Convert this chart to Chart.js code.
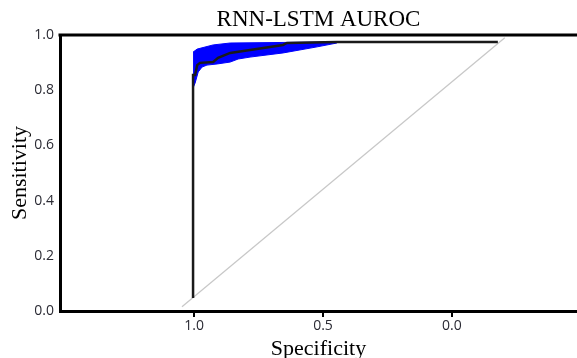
<!DOCTYPE html>
<html>
<head>
<meta charset="utf-8">
<script src="https://cdn.jsdelivr.net/npm/chart.js@4/dist/chart.umd.min.js"></script>
<style>
  html, body { margin: 0; padding: 0; background: #fff; }
  #wrap { width: 577px; height: 358px; }
</style>
</head>
<body>
<div id="wrap"><canvas id="c" width="577" height="358"></canvas></div>
<script>
// ROC curve (specificity, sensitivity)
const rocSpec = [1.004, 1.004, 0.996, 0.988, 0.977, 0.926, 0.907, 0.860, 0.783, 0.655, 0.640, 0.446, -0.178];
const rocSens = [0.047, 0.855, 0.855, 0.891, 0.899, 0.902, 0.917, 0.935, 0.946, 0.964, 0.971, 0.975, 0.975];

// Confidence band upper edge
const upperSpec = [1.004, 0.988, 0.926, 0.860, 0.446];
const upperSens = [0.938, 0.949, 0.964, 0.971, 0.975];

// Confidence band lower edge
const lowerSpec = [1.004, 0.996, 0.984, 0.969, 0.950, 0.911, 0.860, 0.829, 0.783, 0.655, 0.523, 0.446];
const lowerSens = [0.808, 0.826, 0.866, 0.884, 0.891, 0.895, 0.902, 0.913, 0.920, 0.935, 0.957, 0.971];

// Chance diagonal
const diagSpec = [1.047, -0.205];
const diagSens = [0.015, 0.990];

// Axis ticks
const xTickValues = [1.0, 0.5, 0.0];
const yTickValues = [0.0, 0.2, 0.4, 0.6, 0.8, 1.0];

const toPts = (xs, ys) => xs.map((x, i) => ({x: x, y: ys[i]}));

const topBorder = {
  id: 'topBorder',
  afterDatasetsDraw(chart) {
    const {ctx, chartArea} = chart;
    ctx.save();
    ctx.strokeStyle = '#000';
    ctx.lineWidth = 3;
    ctx.beginPath();
    ctx.moveTo(chartArea.left - 1.5, chartArea.top);
    ctx.lineTo(chartArea.right, chartArea.top);
    ctx.stroke();
    ctx.restore();
  }
};

new Chart(document.getElementById('c'), {
  type: 'scatter',
  data: {
    datasets: [
      {
        label: 'upper',
        data: toPts(upperSpec, upperSens),
        showLine: true,
        pointRadius: 0,
        borderWidth: 1,
        borderColor: '#0000ff',
        backgroundColor: '#0000ff',
        fill: '+1',
        tension: 0,
        order: 3
      },
      {
        label: 'lower',
        data: toPts(lowerSpec, lowerSens),
        showLine: true,
        pointRadius: 0,
        borderWidth: 1,
        borderColor: '#0000ff',
        backgroundColor: '#0000ff',
        fill: false,
        tension: 0,
        order: 3
      },
      {
        label: 'diag',
        data: toPts(diagSpec, diagSens),
        showLine: true,
        pointRadius: 0,
        borderWidth: 1.3,
        borderColor: '#c8c8c8',
        fill: false,
        order: 2
      },
      {
        label: 'roc',
        data: toPts(rocSpec, rocSens),
        showLine: true,
        pointRadius: 0,
        borderWidth: 2.5,
        borderColor: '#1a1a1a',
        fill: false,
        tension: 0,
        order: 1
      }
    ]
  },
  options: {
    responsive: false,
    animation: false,
    layout: { padding: 0 },
    plugins: {
      legend: { display: false },
      tooltip: { enabled: false },
      title: {
        display: true,
        text: 'RNN-LSTM AUROC',
        fullSize: false,
        color: '#000',
        font: { family: '"Liberation Serif", "Times New Roman", serif', size: 23, weight: 'normal', lineHeight: 1.2 },
        padding: { top: 6, bottom: 1.4 }
      }
    },
    scales: {
      x: {
        type: 'linear',
        reverse: true,
        min: -0.485,
        max: 1.52,
        afterBuildTicks: (scale) => { scale.ticks = xTickValues.map(v => ({value: v})); },
        afterFit: (scale) => { scale.height = 47; },
        ticks: {
          callback: (v) => Number(v).toFixed(1),
          color: '#2a2a33',
          font: { family: '"Open Sans", sans-serif', size: 14 },
          padding: 1,
          maxRotation: 0,
          autoSkip: false
        },
        grid: { drawOnChartArea: false, drawTicks: true, tickLength: 6, color: '#000', lineWidth: 2 },
        border: { display: true, color: '#000', width: 3 },
        title: {
          display: true,
          text: 'Specificity',
          color: '#000',
          font: { family: '"Liberation Serif", "Times New Roman", serif', size: 22, lineHeight: 0.8 },
          padding: { top: 0, bottom: 0 }
        }
      },
      y: {
        type: 'linear',
        min: 0,
        max: 1,
        afterBuildTicks: (scale) => { scale.ticks = yTickValues.map(v => ({value: v})); },
        afterFit: (scale) => { scale.width = 60; },
        ticks: {
          callback: (v) => Number(v).toFixed(1),
          color: '#2a2a33',
          font: { family: '"Open Sans", sans-serif', size: 14 },
          padding: 6
        },
        grid: { display: false, drawTicks: false },
        border: { display: true, color: '#000', width: 3 },
        title: {
          display: true,
          text: 'Sensitivity',
          color: '#000',
          font: { family: '"Liberation Serif", "Times New Roman", serif', size: 22, lineHeight: 1.2 },
          padding: { top: 7, bottom: 0 }
        }
      }
    }
  },
  plugins: [topBorder]
});
</script>
</body>
</html>
